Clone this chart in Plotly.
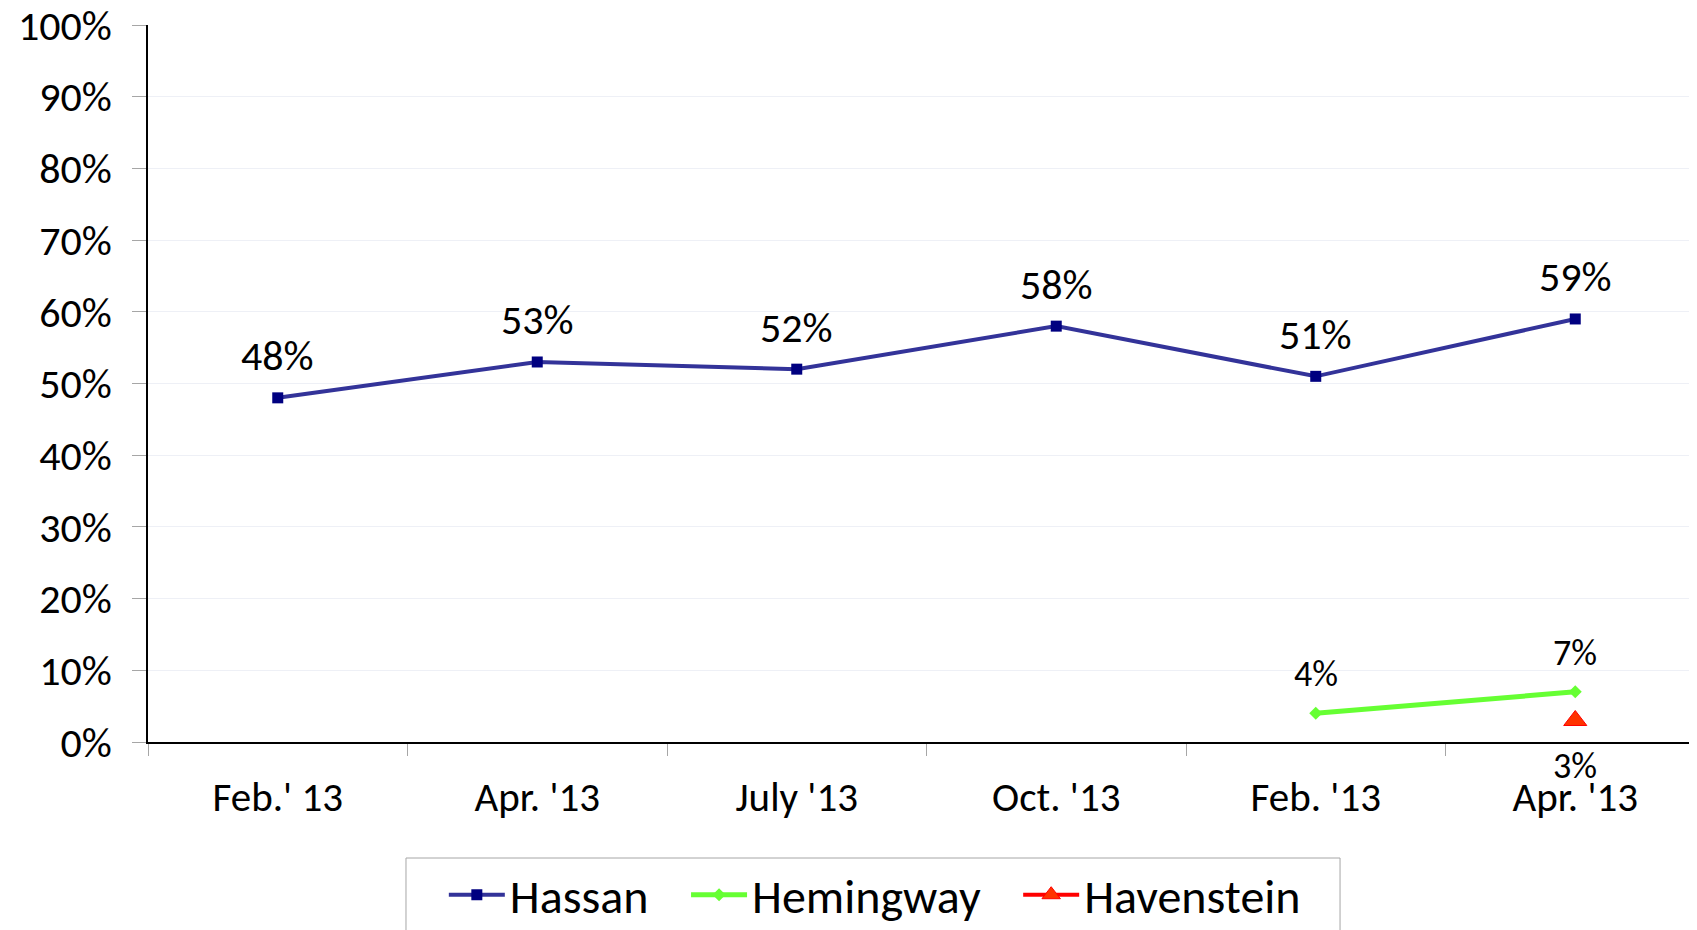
import plotly.graph_objects as go

periods = ["Feb.' 13", "Apr. '13", "July '13", "Oct. '13", "Feb. '13", "Apr. '13"]
positions = [0, 1, 2, 3, 4, 5]
hassan = [0.48, 0.53, 0.52, 0.58, 0.51, 0.59]
hemingway_pos = [4, 5]
hemingway = [0.04, 0.07]
havenstein_pos = [5]
havenstein = [0.03]

FONT = "Carlito, Lato, sans-serif"
PAD = "\u00a0" * 3

fig = go.Figure()
fig.add_trace(go.Scatter(
    x=positions, y=hassan, name="Hassan" + PAD, mode="lines+markers",
    line=dict(color="#333399", width=4),
    marker=dict(symbol="square", size=11, color="#000080"),
))
fig.add_trace(go.Scatter(
    x=hemingway_pos, y=hemingway, name="Hemingway" + PAD, mode="lines+markers",
    line=dict(color="#66FF33", width=5),
    marker=dict(symbol="diamond", size=10, color="#66FF33"),
))
fig.add_trace(go.Scatter(
    x=havenstein_pos, y=havenstein, name="Havenstein", mode="lines+markers",
    line=dict(color="#FF0000", width=4),
    marker=dict(symbol="triangle-up", size=20, color="#FF3300",
                line=dict(color="#FF0000", width=1)),
))

anns = []
for x, v in zip(positions, hassan):
    anns.append(dict(x=x, y=v, text=f"{round(v*100)}%", showarrow=False,
                     yshift=42, font=dict(size=42, color="black", family=FONT)))
for x, v in zip(hemingway_pos, hemingway):
    anns.append(dict(x=x, y=v, text=f"{round(v*100)}%", showarrow=False,
                     yshift=39, font=dict(size=36, color="black", family=FONT)))
for x, v in zip(havenstein_pos, havenstein):
    anns.append(dict(x=x, y=v, text=f"{round(v*100)}%", showarrow=False,
                     yshift=-46, font=dict(size=36, color="black", family=FONT)))

fig.update_layout(
    width=1697, height=930,
    margin=dict(l=140, r=0, t=17, b=196, autoexpand=False),
    paper_bgcolor="white", plot_bgcolor="white",
    font=dict(family=FONT, color="black"),
    annotations=anns,
    shapes=[dict(type="rect", xref="paper", yref="paper",
                 x0=0.1657, x1=0.7656, y0=-0.32, y1=-0.1618,
                 line=dict(color="#A6A6A6", width=1), fillcolor="rgba(0,0,0,0)")],
    showlegend=True,
    legend=dict(
        orientation="h", x=0.190, xanchor="left", y=-0.2134, yanchor="middle",
        borderwidth=0, bgcolor="rgba(0,0,0,0)",
        font=dict(size=48, family=FONT, color="black"),
        itemwidth=56,
    ),
    xaxis=dict(
        type="category", range=[-0.5, 5.5], automargin=False,
        tickmode="array", tickvals=positions, ticktext=periods,
        tickson="boundaries", ticks="outside", ticklen=12, tickcolor="#A6A6A6",
        showline=True, linecolor="black", linewidth=1.5,
        showgrid=False, zeroline=False,
        tickfont=dict(size=41, family=FONT, color="black"),
        ticklabelstandoff=18,
    ),
    yaxis=dict(
        range=[0, 1], dtick=0.1, tickformat=".0%", automargin=False,
        ticklabeloverflow="allow",
        ticks="outside", ticklen=14, tickcolor="#A6A6A6",
        showline=True, linecolor="black", linewidth=1.5,
        showgrid=True, gridcolor="#EEF0F6", gridwidth=1, zeroline=False,
        tickfont=dict(size=42, family=FONT, color="black"),
        ticklabelstandoff=12,
    ),
)

fig.write_html("out.html")
